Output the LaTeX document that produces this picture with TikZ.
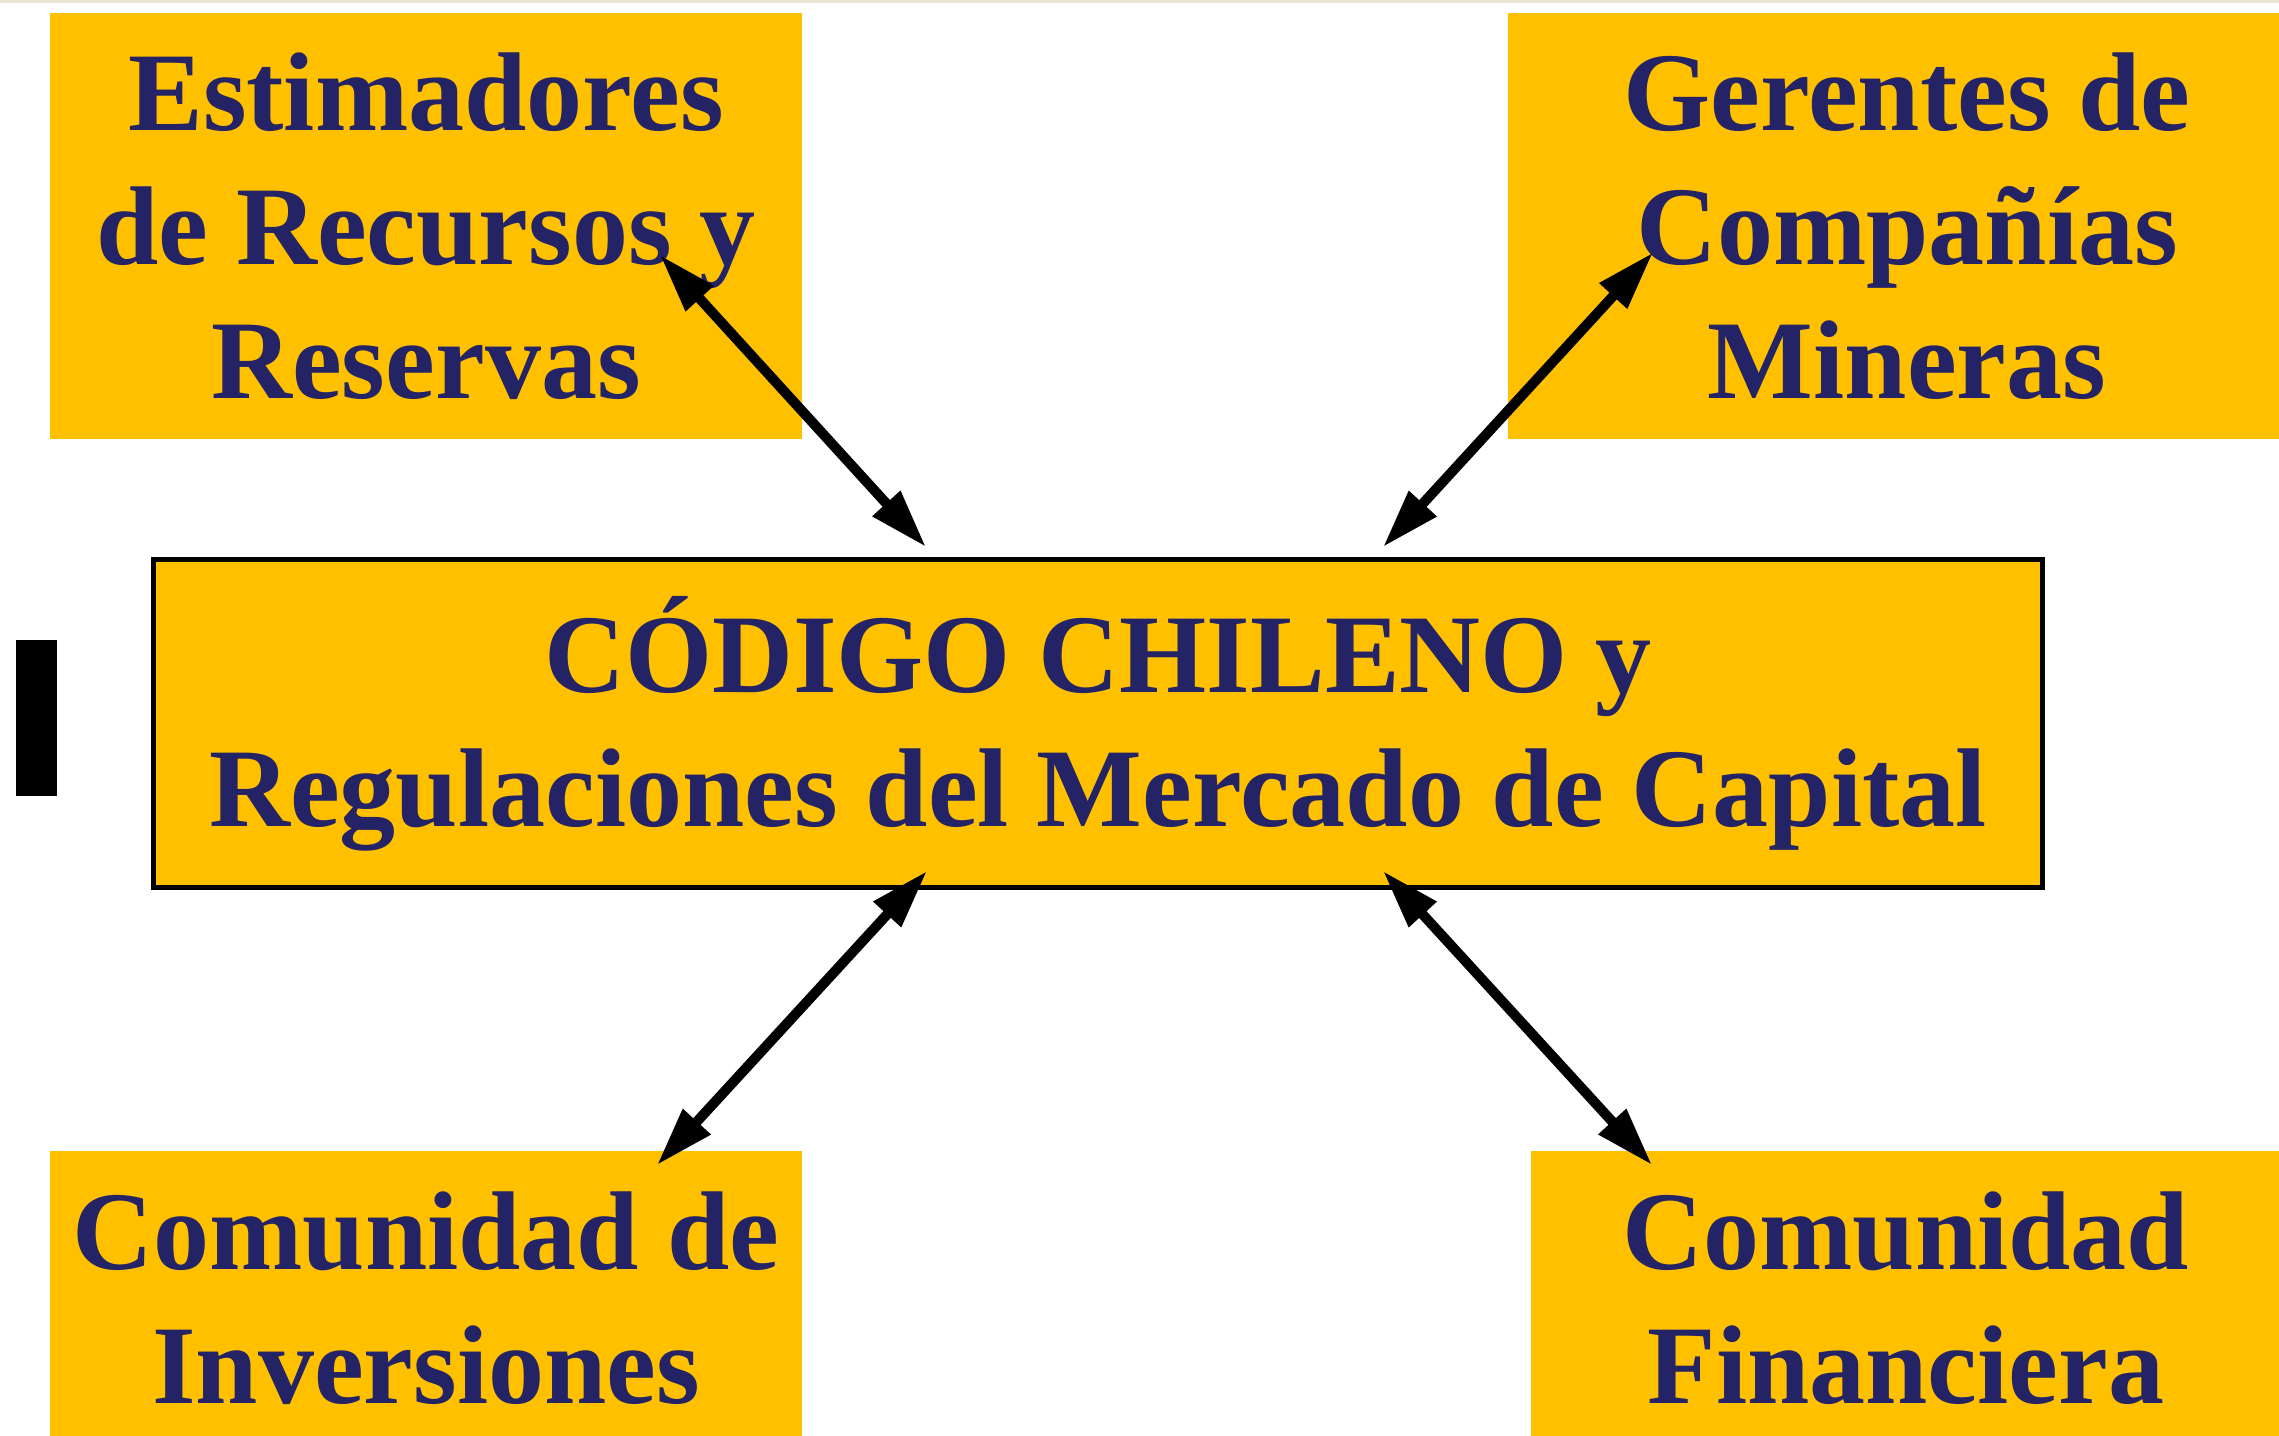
\documentclass[tikz,border=0pt]{standalone}
\usepackage{fontspec}
\setmainfont{Liberation Serif}
\usetikzlibrary{arrows.meta}
\definecolor{boxgold}{RGB}{255,192,0}
\definecolor{txtnavy}{RGB}{35,35,102}
\definecolor{rulebeige}{RGB}{234,228,210}
\tikzset{every picture/.style={line width=0.75pt}}

\begin{document}
\begin{tikzpicture}[x=0.3pt,y=0.3pt,yscale=-1,xscale=1,
  box/.style={fill=boxgold,text=txtnavy,inner sep=0pt,align=center,font=\fontsize{33.6}{40.2}\selectfont\bfseries},
  link/.style={line width=3pt,{Triangle[length=17.7pt,width=10.6pt]}-{Triangle[length=17.7pt,width=10.6pt]}}]
\useasboundingbox (0,0) rectangle (2279,1435);
\clip (0,0) rectangle (2279,1435);

%Shape: Rectangle [top rule]
\fill[rulebeige] (0,0) rectangle (2279,3);
%Shape: Rectangle [black bar]
\fill (16,640) rectangle (56.5,796);

% Text Node
\node[box,minimum width=225.6pt,minimum height=127.9pt] (est) at (426,226) {Estimadores\\de Recursos y\\Reservas};
% Text Node
\node[box,minimum width=239.7pt,minimum height=127.9pt] (ger) at (1907,226) {Gerentes de\\Compañías\\Mineras};
% Text Node
\node[box,draw=black,line width=1.5pt,minimum width=566.7pt,minimum height=98.55pt] (cod) at (1098,723.7) {CÓDIGO CHILENO y\\Regulaciones del Mercado de Capital};
% Text Node
\node[box,minimum width=225.6pt,minimum height=88.2pt] (inv) at (426,1298) {Comunidad de\\Inversiones};
% Text Node
\node[box,minimum width=225.3pt,minimum height=88.2pt] (fin) at (1906,1298) {Comunidad\\Financiera};

% arrow ends
\coordinate (est-end) at (660,255);
\coordinate (ger-end) at (1653,252.5);
\coordinate (inv-end) at (657,1165);
\coordinate (fin-end) at (1652,1165);
\coordinate (cod-tl) at (926,547);
\coordinate (cod-tr) at (1383,547);
\coordinate (cod-bl) at (927,871);
\coordinate (cod-br) at (1383,871);

%Straight Lines
\draw[link] (est-end) -- (cod-tl);
\draw[link] (ger-end) -- (cod-tr);
\draw[link] (cod-bl) -- (inv-end);
\draw[link] (cod-br) -- (fin-end);

\end{tikzpicture}
\end{document}
